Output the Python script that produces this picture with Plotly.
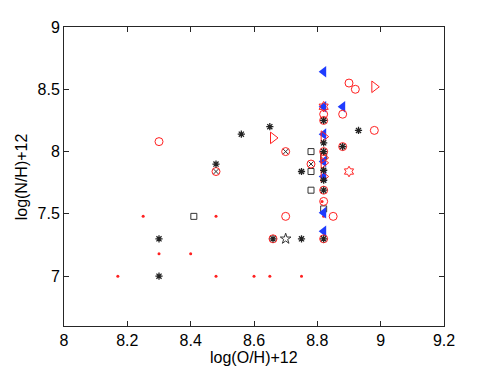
import plotly.graph_objects as go

# Data
dots_x = [8.17, 8.25, 8.30, 8.40, 8.48, 8.48, 8.60, 8.65, 8.75, 8.82, 8.815]
dots_y = [7.00, 7.48, 7.18, 7.18, 7.48, 7.00, 7.00, 7.00, 7.00, 7.48, 7.60]

ast_x = [8.30, 8.30, 8.48, 8.56, 8.65, 8.75, 8.75, 8.82, 8.66, 8.93, 8.82, 8.82, 8.82, 8.82, 8.82, 8.82, 8.88]
ast_y = [7.30, 7.00, 7.90, 8.14, 8.20, 7.84, 7.30, 7.30, 7.30, 8.17, 8.25, 8.07, 8.00, 7.85, 7.77, 7.69, 8.04]

sq_x = [8.41, 8.78, 8.78, 8.78, 8.82, 8.82]
sq_y = [7.48, 8.00, 7.84, 7.69, 7.54, 7.96]

circ_x = [8.30, 8.48, 8.70, 8.78, 8.70, 8.85, 8.82, 8.90, 8.92, 8.88, 8.98, 8.82, 8.82, 8.88, 8.82, 8.66, 8.82, 8.82]
circ_y = [8.08, 7.84, 8.00, 7.90, 7.48, 7.48, 7.60, 8.55, 8.50, 8.30, 8.17, 8.30, 8.25, 8.04, 7.69, 7.30, 7.30, 8.00]

x_x = [8.48, 8.70, 8.78]
x_y = [7.84, 8.00, 7.90]

rtri_x = [8.98, 8.66, 8.82, 8.82, 8.82, 8.82]
rtri_y = [8.52, 8.11, 8.12, 7.95, 7.91, 7.80]

btri_x = [8.82, 8.88, 8.82, 8.82, 8.82, 8.82, 8.82, 8.82]
btri_y = [8.64, 8.36, 8.36, 8.14, 7.92, 7.80, 7.51, 7.36]

hex_x = [8.90, 8.82]
hex_y = [7.84, 8.36]

star_x = [8.70]
star_y = [7.30]

x_title = "log(O/H)+12"
y_title = "log(N/H)+12"

RED = "#ff2020"
BLUE = "#1f3cff"

fig = go.Figure()
fig.add_trace(go.Scatter(x=dots_x, y=dots_y, mode="markers",
                         marker=dict(symbol="circle", size=3, color=RED)))
fig.add_trace(go.Scatter(x=sq_x, y=sq_y, mode="markers",
                         marker=dict(symbol="square-open", size=6, color="#333333",
                                     line=dict(width=1, color="#333333"))))
fig.add_trace(go.Scatter(x=btri_x, y=btri_y, mode="markers",
                         marker=dict(symbol="triangle-left", size=10, color=BLUE,
                                     line=dict(width=0))))
fig.add_trace(go.Scatter(x=rtri_x, y=rtri_y, mode="markers",
                         marker=dict(symbol="triangle-right-open", size=10, color=RED,
                                     line=dict(width=1, color=RED))))
fig.add_trace(go.Scatter(x=circ_x, y=circ_y, mode="markers",
                         marker=dict(symbol="circle-open", size=8, color=RED,
                                     line=dict(width=1, color=RED))))
fig.add_trace(go.Scatter(x=ast_x, y=ast_y, mode="markers",
                         marker=dict(symbol="asterisk-open", size=6, color="#222222",
                                     line=dict(width=1.3, color="#222222"))))
fig.add_trace(go.Scatter(x=x_x, y=x_y, mode="markers",
                         marker=dict(symbol="x-thin-open", size=5, color="#333333",
                                     line=dict(width=1, color="#333333"))))
fig.add_trace(go.Scatter(x=hex_x, y=hex_y, mode="markers",
                         marker=dict(symbol="hexagram-open", size=8, color=RED,
                                     line=dict(width=1, color=RED))))
fig.add_trace(go.Scatter(x=star_x, y=star_y, mode="markers",
                         marker=dict(symbol="star-open", size=8, color="#333333",
                                     line=dict(width=1, color="#333333"))))

axis_common = dict(showgrid=False, zeroline=False, showline=True, linecolor="#262626",
                   linewidth=1, mirror="ticks", ticks="inside", ticklen=5,
                   tickcolor="#262626", tickfont=dict(size=16, color="black",
                                                      family="Liberation Sans, Arial"))

# figure is offset by the page's 8px body margin, so size/margins compensate
fig.update_layout(
    width=483, height=361,
    margin=dict(l=56, r=47, t=19, b=43),
    paper_bgcolor="white", plot_bgcolor="white",
    showlegend=False,
    font=dict(family="Liberation Sans, Arial", size=16, color="black"),
    xaxis=dict(range=[8, 9.2], dtick=0.2, tick0=8, ticklabelstandoff=0,
               **axis_common),
    yaxis=dict(range=[6.6, 9], dtick=0.5, tick0=7,
               **axis_common),
    annotations=[
        dict(text=x_title, xref="paper", yref="paper", x=0.5, y=-0.105,
             xanchor="center", yanchor="middle", showarrow=False,
             font=dict(size=16, color="black")),
        dict(text=y_title, xref="paper", yref="paper", x=-0.111, y=0.5,
             xanchor="center", yanchor="middle", textangle=-90, showarrow=False,
             font=dict(size=16, color="black")),
    ],
)

fig.write_html("out.html")
